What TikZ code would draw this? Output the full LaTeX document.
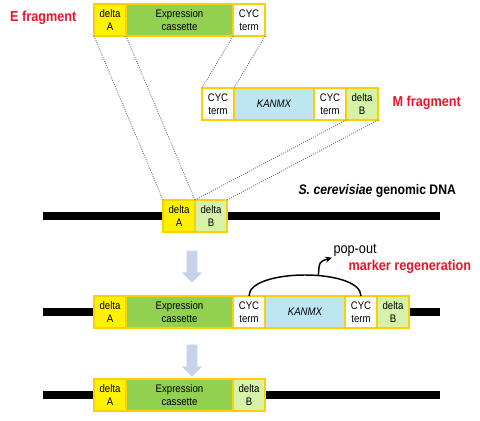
\documentclass[tikz,border=0pt]{standalone}
\usepackage{fontspec}
\setmainfont{Liberation Sans}
\newfontfamily\narrowsf[FakeStretch=0.88]{Liberation Sans}
\usepackage{tikz}
\usetikzlibrary{positioning,shapes.arrows,arrows.meta}

\begin{document}
\begin{tikzpicture}[x=0.75pt,y=0.75pt,yscale=-1,xscale=1,
  seg/.style={draw={rgb, 255:red, 250; green, 208; blue, 0 }, line width=1.1pt, minimum height=24pt, inner sep=0pt, outer sep=0pt, align=center, font=\narrowsf\fontsize{8.2}{9.6}\selectfont},
  dA/.style={seg, fill={rgb, 255:red, 255; green, 242; blue, 0 }, minimum width=24pt},
  dB/.style={seg, fill={rgb, 255:red, 214; green, 242; blue, 168 }, minimum width=24pt},
  cas/.style={seg, fill={rgb, 255:red, 146; green, 208; blue, 80 }, minimum width=80.25pt},
  cyc/.style={seg, fill=white, minimum width=24pt},
  kan/.style={seg, fill={rgb, 255:red, 190; green, 230; blue, 242 }, minimum width=60pt, font=\narrowsf\fontsize{8.2}{9.6}\selectfont\itshape},
  dna/.style={line width=5.6pt, color=black},
  hom/.style={color={rgb, 255:red, 120; green, 120; blue, 120 }, densely dotted, line width=0.7pt},
  dn/.style={single arrow, shape border rotate=270, fill={rgb, 255:red, 200; green, 210; blue, 235 }, draw=none, inner sep=3.75pt, single arrow head extend=3.75pt, minimum height=24pt},
  lbl/.style={font=\narrowsf\fontsize{10.8}{12}\selectfont\bfseries, inner sep=1pt},
  redlbl/.style={lbl, color={rgb, 255:red, 235; green, 20; blue, 40 }}
]
\useasboundingbox (0,0) rectangle (480,421);

%Genomic DNA bars
\draw [dna] (43,216) -- (440,216) ;
\draw [dna] (43,312) -- (440,312) ;
\draw [dna] (43,395) -- (440,395) ;

%E fragment
\node [dA, anchor=north west] (eA) at (94,4) {delta\\A};
\node [cas, right=0pt of eA] (eX) {Expression\\cassette};
\node [cyc, right=0pt of eX] (eC) {CYC\\term};
\node [redlbl, anchor=east] (efrag) at (78,18) {E fragment};

%M fragment
\node [cyc, anchor=north west] (mC1) at (202,88) {CYC\\term};
\node [kan, right=0pt of mC1] (mK) {KANMX};
\node [cyc, right=0pt of mK] (mC2) {CYC\\term};
\node [dB, right=0pt of mC2] (mB) {delta\\B};
\node [redlbl, anchor=west] (mfrag) at (391,103) {M fragment};

%genome site
\node [dA, anchor=north west] (gA) at (163,200) {delta\\A};
\node [dB, right=0pt of gA] (gB) {delta\\B};
\node [lbl, anchor=west, font=\narrowsf\fontsize{10.4}{12}\selectfont\bfseries] (gdna) at (297,191) {\itshape S. cerevisiae\upshape{} genomic DNA};

%homology lines
\draw [hom] (eA.south west) -- (gA.north west) ;
\draw [hom] (eA.south east) -- (gA.north east) ;
\draw [hom] (eC.south west) -- (mC1.north west) ;
\draw [hom] (eC.south east) -- (mC1.north east) ;
\draw [hom] (mB.south west) -- (gB.north west) ;
\draw [hom] (mB.south east) -- (gB.north east) ;

%step arrow 1
\node [dn] (arr1) at (192,264) {};

%integrated
\node [dA, anchor=north west] (iA) at (94,296) {delta\\A};
\node [cas, right=0pt of iA] (iX) {Expression\\cassette};
\node [cyc, right=0pt of iX] (iC1) {CYC\\term};
\node [kan, right=0pt of iC1] (iK) {KANMX};
\node [cyc, right=0pt of iK] (iC2) {CYC\\term};
\node [dB, right=0pt of iC2] (iB) {delta\\B};

%loop out
\draw [line width=1.1pt] (iC1.north) .. controls +(0,-28) and +(0,-28) .. (iC2.north) coordinate[pos=0.58] (loop) ;
\node [font=\narrowsf\fontsize{10.8}{12}\selectfont, inner sep=1pt, anchor=west] (pop) at (332,250) {pop-out};
\node [redlbl, anchor=west] (regen) at (347,267) {marker regeneration};
\draw [line width=1.1pt, -{Stealth[length=5pt,width=4.5pt]}] (loop) .. controls +(1,-14) .. (pop.south west) ;

%step arrow 2
\node [dn] (arr2) at (192,358) {};

%final
\node [dA, anchor=north west] (fA) at (94,379) {delta\\A};
\node [cas, right=0pt of fA] (fX) {Expression\\cassette};
\node [dB, right=0pt of fX] (fB) {delta\\B};

\end{tikzpicture}
\end{document}
